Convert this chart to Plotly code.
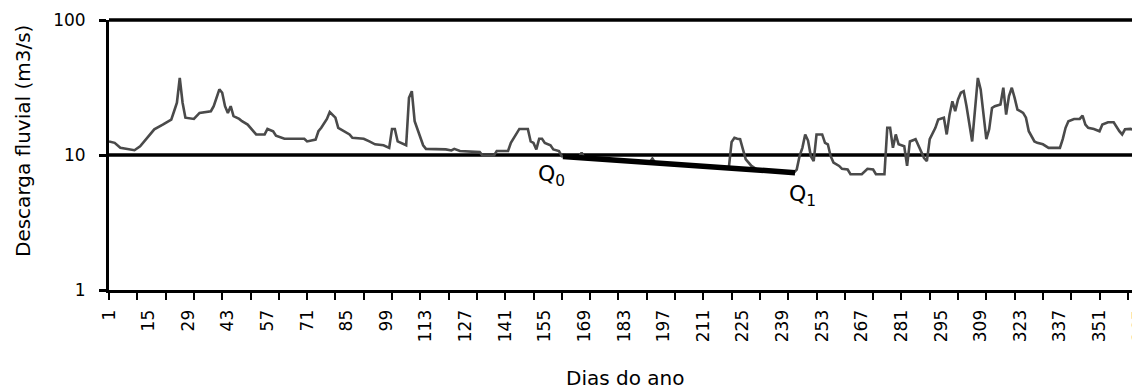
import plotly.graph_objects as go

# Daily river discharge (m3/s)
days = [1, 3, 5, 9, 10, 12, 15, 17, 20, 23, 24, 25, 26, 27, 28, 31, 33, 37, 38, 40, 41, 42, 43, 44, 45,
        47, 48, 50, 53, 56, 57, 59, 60, 63, 70, 71, 74, 75, 76, 78, 79, 81, 82, 84, 86, 87, 91, 93, 95,
        98, 100, 101, 102, 103, 104, 106, 107, 108, 109, 110, 111, 112, 113, 116, 120, 122, 123, 125,
        132, 133, 137, 138, 142, 143, 145, 146, 149, 150, 151, 152, 153, 154, 155, 157, 158, 160, 161,
        167, 168, 169, 175, 185, 192, 193, 194, 205, 215, 220, 221, 222, 223, 224, 225, 226, 228, 230,
        238, 243, 244, 245, 246, 247, 248, 249, 250, 251, 253, 254, 255, 256, 257, 259, 260, 262, 263,
        267, 269, 271, 272, 275, 276, 277, 278, 279, 280, 282, 283, 284, 286, 288, 289, 290, 291, 293,
        294, 296, 297, 298, 299, 300, 301, 302, 303, 304, 305, 306, 307, 308, 309, 310, 311, 312, 313,
        314, 316, 317, 318, 319, 320, 321, 322, 323, 324, 325, 326, 328, 329, 331, 333, 337, 338, 339,
        340, 342, 344, 345, 346, 347, 349, 351, 352, 354, 356, 358, 359, 360, 362, 365]
discharge = [12.6, 12.3, 11.3, 10.85, 10.85, 11.6, 13.8, 15.5, 16.8, 18.3, 21.1, 24.4, 37.2, 24.4, 18.9,
             18.5, 20.5, 21.1, 23.0, 30.6, 28.9, 23.0, 20.5, 23.0, 19.4,
             18.5, 17.8, 16.8, 14.2, 14.2, 15.6, 15.0, 13.9, 13.2, 13.2, 12.6, 13.0, 15.0, 15.9, 18.5,
             20.8, 18.9, 15.9, 15.0, 14.2, 13.4, 13.2, 12.6, 12.0,
             11.8, 11.3, 15.6, 15.6, 12.6, 12.3, 11.8, 26.5, 29.7, 17.8, 15.5, 13.2, 11.8, 11.1, 11.1,
             11.0, 10.8, 11.1, 10.7,
             10.5, 9.9, 9.9, 10.7, 10.7, 12.3, 14.2, 15.6, 15.6, 12.6, 12.3, 11.0, 13.2, 13.2, 12.3,
             11.8, 11.0, 10.7, 9.8,
             9.6, 10.4, 9.5, 9.3, 9.0, 8.8, 9.4, 8.75, 8.45, 8.15, 8.0, 12.5, 13.4, 13.2, 13.1, 11.0,
             9.3, 8.3, 7.8,
             7.55, 7.4, 7.8, 9.8, 11.3, 14.2, 12.8, 9.8, 9.0, 14.2, 14.2, 12.3, 12.0, 9.8, 8.8, 8.3,
             7.9, 7.8, 7.2,
             7.2, 7.9, 7.8, 7.2, 7.2, 15.9, 15.9, 11.3, 14.2, 12.0, 11.6, 8.3, 12.6, 13.1, 10.7, 9.5,
             9.0, 13.1, 15.9,
             18.3, 18.9, 14.2, 19.9, 25.0, 21.1, 25.8, 28.9, 29.7, 23.0, 16.4, 12.6, 21.7, 37.2, 30.6,
             20.5, 13.1, 15.5, 22.3,
             23.0, 23.7, 31.5, 19.9, 27.3, 31.5, 26.5, 21.7, 21.1, 20.5, 18.9, 15.0, 12.6, 12.3, 12.0,
             11.3, 11.3, 13.1, 15.9,
             17.8, 18.5, 18.5, 19.6, 16.8, 15.9, 15.6, 15.0, 16.8, 17.5, 17.5, 15.0, 14.2, 15.5, 15.6,
             15.0]

# Recession segment (Q0 -> Q1)
recession_days = [161.4, 243.4]
recession_q = [9.75, 7.4]

x_tick_days = list(range(1, 366, 14))
x_tick_text = [str(d) for d in x_tick_days]
y_tick_vals = [1, 10, 100]
y_tick_text = ["1", "10", "100"]

FONT = "DejaVu Sans"

fig = go.Figure()
fig.add_trace(go.Scatter(x=days, y=discharge, mode="lines",
                         line=dict(color="#4a4a4a", width=2.6), hoverinfo="skip"))
fig.add_trace(go.Scatter(x=recession_days, y=recession_q, mode="lines",
                         line=dict(color="black", width=5.5), hoverinfo="skip"))

# The page body has an 8px margin, so the figure is sized to fill the rest of the window.
fig.update_layout(
    template="none",
    width=1132, height=381,
    margin=dict(l=101, r=0, t=12, b=99, autoexpand=False),
    paper_bgcolor="white", plot_bgcolor="white",
    showlegend=False,
    font=dict(family=FONT, color="black"),
    xaxis=dict(
        automargin=False,
        range=[1, 365.3],
        tickmode="array", tickvals=x_tick_days, ticktext=x_tick_text,
        tickangle=-90, ticks="", ticklabelstandoff=10, ticklabeloverflow="allow",
        tickfont=dict(size=17, family=FONT, color="black"),
        minor=dict(tickmode="linear", tick0=1, dtick=10, ticks="outside",
                   ticklen=7, tickwidth=2, tickcolor="black", showgrid=False),
        showline=True, linecolor="black", linewidth=3,
        showgrid=False, zeroline=False,
    ),
    yaxis=dict(
        automargin=False,
        type="log", range=[0, 2],
        tickmode="array", tickvals=y_tick_vals, ticktext=y_tick_text,
        ticks="outside", ticklen=7, tickwidth=2.5, tickcolor="black",
        ticklabelstandoff=10,
        tickfont=dict(size=17, family=FONT, color="black"),
        showgrid=False,
        showline=True, linecolor="black", linewidth=3,
        zeroline=False,
    ),
)

# horizontal reference lines at 10 and 100
for yp in (0.5, 1.0):
    fig.add_shape(type="line", xref="paper", yref="paper", x0=0, x1=1, y0=yp, y1=yp,
                  line=dict(color="black", width=3.5), layer="below")

# positions below given in page pixels; plot area spans x 109..1140, y 20..290
fig.add_annotation(text="Descarga fluvial (m3/s)", xref="paper", yref="paper",
                   x=(23 - 109) / 1031, y=(290 - 141) / 270, textangle=-90,
                   showarrow=False, font=dict(size=20, family=FONT, color="black"),
                   xanchor="center", yanchor="middle")
fig.add_annotation(text="Dias do ano", xref="paper", yref="paper",
                   x=0.5, y=(290 - 378) / 270, showarrow=False,
                   font=dict(size=20, family=FONT, color="black"),
                   xanchor="center", yanchor="middle")
fig.add_annotation(text="Q<sub>0</sub>", xref="paper", yref="paper",
                   x=(536 - 109) / 1031, y=(290 - 175) / 270, showarrow=False,
                   font=dict(size=22, family=FONT, color="black"),
                   xanchor="left", yanchor="middle")
fig.add_annotation(text="Q<sub>1</sub>", xref="paper", yref="paper",
                   x=(787 - 109) / 1031, y=(290 - 195) / 270, showarrow=False,
                   font=dict(size=22, family=FONT, color="black"),
                   xanchor="left", yanchor="middle")

fig.write_html("out.html")
